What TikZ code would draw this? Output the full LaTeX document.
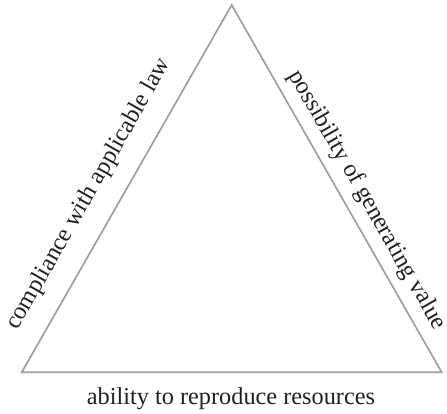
\documentclass[tikz,border=0pt]{standalone}
\usepackage{fontspec}
\setmainfont{Liberation Serif}
\definecolor{edgegray}{RGB}{158,158,158}
\definecolor{labelink}{RGB}{35,31,32}
\begin{document}
\begin{tikzpicture}[x=1pt,y=1pt,
  edge/.style={draw=edgegray,line width=1.7pt,line join=miter},
  sidelabel/.style={inner sep=0pt,anchor=base,text=labelink,
    font=\fontsize{24.3}{29}\selectfont}]
  \useasboundingbox (0,0) rectangle (447,-413);
  % corners of the triangle
  \coordinate (top) at (231.7,-5);
  \coordinate (bl) at (21.7,-372.3);
  \coordinate (br) at (441.7,-372.3);
  \draw[edge] (top) -- (bl) -- (br) -- cycle;
  % labels along the three sides
  \node[sidelabel,rotate=60.24] (law) at (94.1,-197.1) {compliance with applicable law};
  \node[sidelabel,rotate=-60.24] (value) at (361.9,-203.1) {possibility of generating value};
  \node[sidelabel] (resources) at (231,-404.5) {ability to reproduce resources};
\end{tikzpicture}
\end{document}
